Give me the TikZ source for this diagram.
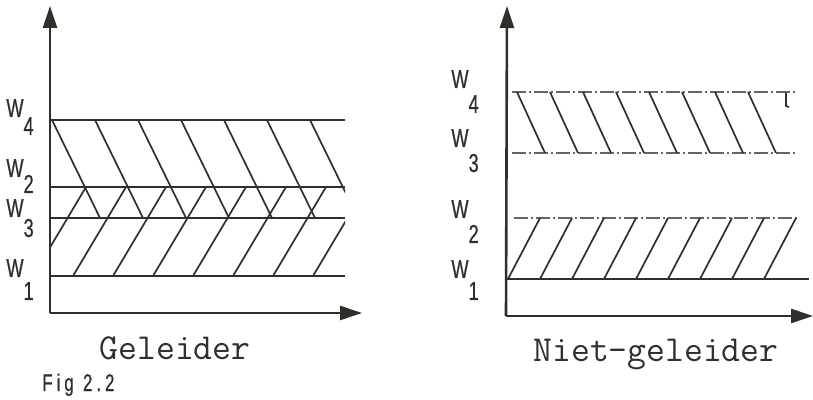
\documentclass[tikz,border=0pt]{standalone}
\usepackage{fontspec}
\usepackage{tikz}
\usetikzlibrary{arrows.meta}
\newfontfamily\plotfont[FakeStretch=0.7, FakeBold=0.6]{Liberation Sans}
\definecolor{ink}{RGB}{50,46,42}
\definecolor{faintink}{RGB}{105,100,92}

\begin{document}
\begin{tikzpicture}[
    x=0.5pt, y=-0.5pt,
    axis/.style={draw=ink, line width=1.3pt, -{Triangle[length=11pt, width=7pt]}},
    level/.style={draw=ink, line width=0.9pt},
    gaplevel/.style={draw=faintink, line width=0.8pt, dash pattern=on 7pt off 1.5pt on 1pt off 1.5pt},
    hatch/.style={draw=ink, line width=0.85pt},
    wlabel/.style={text=ink, font=\plotfont\fontsize{13}{14}\selectfont, inner sep=0pt, anchor=base west},
    caption/.style={text=ink, font=\ttfamily\addfontfeature{FakeBold=1.2}\fontsize{18.3}{20}\selectfont, inner sep=0pt}
]
\useasboundingbox (0,0) rectangle (813,400);

% Geleider
\coordinate (lo) at (50,313);
\coordinate (ly) at (50,6);
\coordinate (lx) at (362,313);
\draw[axis] (lo) -- (ly);
\draw[axis] (lo) -- (lx);

\draw[level] (51,120) -- (345,120);
\draw[level] (51,187) -- (345,187);
\draw[level] (51,218) -- (345,218);
\draw[level] (51,276) -- (345,276);

\begin{scope}
  \clip (51,120) rectangle (345,218);
  \foreach \x in {52,95,...,310}
    \draw[hatch] (\x,120) -- ++(48,98);
\end{scope}
\begin{scope}
  \clip (51,187) rectangle (345,276);
  \foreach \x in {33,73,...,320}
    \draw[hatch] (\x,276) -- ++(53,-89);
\end{scope}

\node[wlabel] (lw4) at (6,117) {W\raisebox{-9pt}{4}};
\node[wlabel] (lw2) at (6,177) {W\raisebox{-8pt}{2}};
\node[wlabel] (lw3) at (6,217) {W\raisebox{-10pt}{3}};
\node[wlabel] (lw1) at (6,277) {W\raisebox{-11.5pt}{1}};

\node[caption] (geleider) at (175,348) {Geleider};
\node[wlabel, font=\plotfont\fontsize{12}{13}\selectfont] (fig) at (42,391) {F\,i\,g\ \ 2\,.\,2};

% Niet-geleider
\coordinate (ro) at (506,316);
\coordinate (ry) at (507,6);
\coordinate (rx) at (813,316);
\draw[axis] (ro) -- (ry);
\draw[axis] (ro) -- (rx);

\draw[gaplevel] (512,92) -- (797,92);
\draw[gaplevel] (512,153) -- (797,153);
\draw[gaplevel] (514,218) -- (800,218);
\draw[level] (507,279) -- (809,279);

\begin{scope}
  \clip (507,92) rectangle (797,153);
  \foreach \x in {517,550,...,760}
    \draw[hatch] (\x,92) -- ++(28,61);
\end{scope}
\draw[hatch] (786,93) -- (786,106) -- (789,107);

\begin{scope}
  \clip (507,218) rectangle (800,279);
  \foreach \x in {508,540,...,770}
    \draw[hatch] (\x,279) -- ++(32,-61);
\end{scope}

\node[wlabel] (rw4) at (451,88) {W\raisebox{-12.5pt}{4}};
\node[wlabel] (rw3) at (451,147) {W\raisebox{-12.5pt}{3}};
\node[wlabel] (rw2) at (451,218) {W\raisebox{-12.5pt}{2}};
\node[wlabel] (rw1) at (451,278) {W\raisebox{-11pt}{1}};

\node[caption] (nietgeleider) at (656,355) {Niet-geleider};

\end{tikzpicture}
\end{document}
